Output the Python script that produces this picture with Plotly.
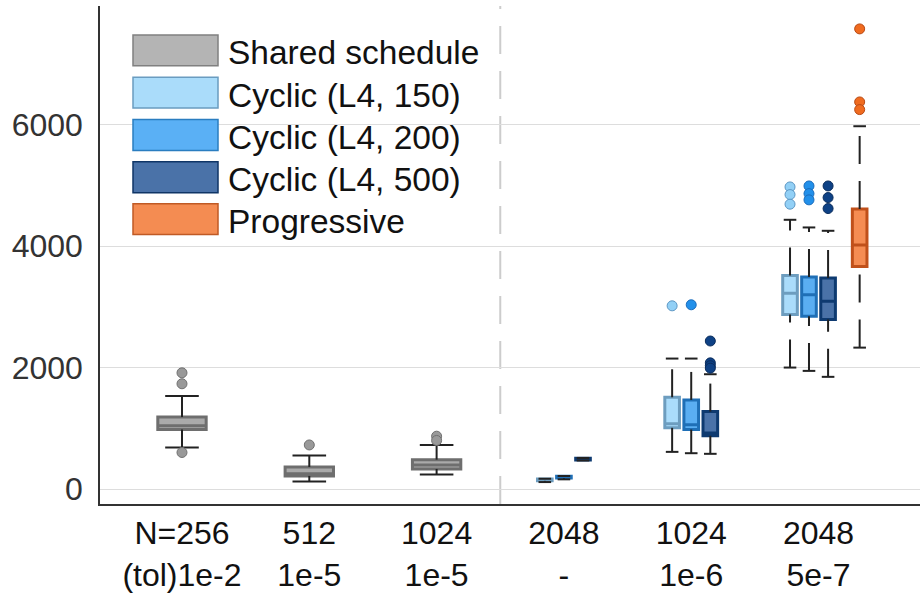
import plotly.graph_objects as go

# ---------------- data ----------------
tick_vals = [0, 1, 2, 3, 4, 5]
tick_text = ["N=256<br>(tol)1e-2", "512<br>1e-5", "1024<br>1e-5",
             "2048<br>-", "1024<br>1e-6", "2048<br>5e-7"]
y_ticks = [0, 2000, 4000, 6000]

shared_cat = [0, 1, 2]
shared_q1 = [980, 216, 331]
shared_med = [1040, 250, 395]
shared_q3 = [1185, 364, 484]
shared_lo = [684, 126, 241]
shared_hi = [1530, 552, 726]
shared_out_cat = [0, 0, 0, 1, 2, 2]
shared_out = [1913, 1733, 602, 726, 870, 800]

c150_cat = [3, 4, 5]
c150_q1 = [135, 1008, 2872]
c150_med = [150, 1075, 3224]
c150_q3 = [165, 1511, 3516]
c150_lo = [115, 612, 2000]
c150_hi = [170, 2148, 4432]
c150_out_cat = [4, 5, 5, 5]
c150_out = [3016, 4973, 4847, 4689]

c200_cat = [3, 4, 5]
c200_q1 = [180, 980, 2844]
c200_med = [195, 1060, 3197]
c200_q3 = [210, 1467, 3489]
c200_lo = [160, 590, 1945]
c200_hi = [215, 2148, 4306]
c200_out_cat = [4, 5, 5, 5]
c200_out = [3033, 4989, 4863, 4760]

c500_cat = [3, 4, 5]
c500_q1 = [478, 877, 2790]
c500_med = [490, 923, 3093]
c500_q3 = [505, 1275, 3472]
c500_lo = [470, 580, 1847]
c500_hi = [512, 1890, 4251]
c500_out_cat = [4, 4, 4, 4, 5, 5, 5]
c500_out = [2437, 2077, 2030, 1990, 4989, 4798, 4617]

prog_cat = [5]
prog_q1 = [3664]
prog_med = [4016]
prog_q3 = [4610]
prog_lo = [2328]
prog_hi = [5972]
prog_out_cat = [5, 5, 5]
prog_out = [7574, 6372, 6246]

names = ["Shared schedule", "Cyclic (L4, 150)", "Cyclic (L4, 200)",
         "Cyclic (L4, 500)", "Progressive"]

# ---------------- styles / layout helpers ----------------
FONT = "Liberation Sans, Arial, sans-serif"
W, H = 923, 596
ML, MR, MT, MB = 100, 3, 6, 90

# per-series offset of a box from its category centre (x units)
offsets = {
    "shared": {0: 0, 1: 0, 2: 0},
    "c150": {3: -0.15, 4: -0.15, 5: -0.224},
    "c200": {3: 0.0, 4: 0.0, 5: -0.075},
    "c500": {3: 0.15, 4: 0.15, 5: 0.075},
    "prog": {5: 0.323},
}
styles = {
    "shared": dict(line="#6e6e6e", fill="#aaaaaa", pt="#999999", ptl="#707070",
                   width=0.38, cap=24, sw_fill="#b4b4b4", sw_line="#808080"),
    "c150": dict(line="#6d9dbf", fill="#aadcfb", pt="#92d0f6", ptl="#5d97c4",
                 width=0.115, cap=9, sw_fill="#aadcfa", sw_line="#6a9cc0"),
    "c200": dict(line="#1f6fb6", fill="#5aaef2", pt="#2290ea", ptl="#1a6cbc",
                 width=0.115, cap=9, sw_fill="#5ab0f5", sw_line="#2a7dc0"),
    "c500": dict(line="#0e3a70", fill="#4a72a8", pt="#0e4185", ptl="#0a2c5c",
                 width=0.115, cap=9, sw_fill="#4a72a8", sw_line="#0f3566"),
    "prog": dict(line="#c0501a", fill="#f58c52", pt="#f06b1f", ptl="#b84a15",
                 width=0.115, cap=9, sw_fill="#f48c52", sw_line="#c05a25"),
}

series = {
    "shared": (shared_cat, shared_q1, shared_med, shared_q3, shared_lo, shared_hi, shared_out_cat, shared_out),
    "c150": (c150_cat, c150_q1, c150_med, c150_q3, c150_lo, c150_hi, c150_out_cat, c150_out),
    "c200": (c200_cat, c200_q1, c200_med, c200_q3, c200_lo, c200_hi, c200_out_cat, c200_out),
    "c500": (c500_cat, c500_q1, c500_med, c500_q3, c500_lo, c500_hi, c500_out_cat, c500_out),
    "prog": (prog_cat, prog_q1, prog_med, prog_q3, prog_lo, prog_hi, prog_out_cat, prog_out),
}

fig = go.Figure()
WHISK = "#222222"

for key, (cat, q1, med, q3, lo, hi, ocat, oval) in series.items():
    st = styles[key]
    pos = [c + offsets[key][c] for c in cat]
    # whiskers (drawn bottom -> top, dashed)
    wx, wy = [], []
    for p, a, b, c_, d in zip(pos, lo, q1, q3, hi):
        wx += [p, p, None, p, p, None]
        wy += [a, b, None, c_, d, None]
    fig.add_trace(go.Scatter(x=wx, y=wy, mode="lines", connectgaps=False,
                             line=dict(color=WHISK, width=2, dash="28px,17px"),
                             hoverinfo="skip", showlegend=False))
    # boxes
    fig.add_trace(go.Box(x=pos, q1=q1, median=med, q3=q3, lowerfence=q1, upperfence=q3,
                         width=st["width"], whiskerwidth=0,
                         line=dict(color=st["line"], width=3), fillcolor=st["fill"],
                         boxpoints=False, hoverinfo="skip", showlegend=False))
    # caps
    fig.add_trace(go.Scatter(x=pos + pos, y=lo + hi, mode="markers",
                             marker=dict(symbol="line-ew", size=st["cap"],
                                         line=dict(color=WHISK, width=2)),
                             hoverinfo="skip", showlegend=False))
    # outliers
    opos = [c + offsets[key][c] for c in ocat]
    fig.add_trace(go.Scatter(x=opos, y=oval, mode="markers",
                             marker=dict(symbol="circle", size=10, color=st["pt"],
                                         line=dict(color=st["ptl"], width=1)),
                             hoverinfo="skip", showlegend=False))

# ---------------- manual legend ----------------
pw = W - ML - MR
ph = H - MT - MB
def px_x(px):
    return (px - ML) / pw
def px_y(py):
    return (H - MB - py) / ph

shapes = [dict(type="line", xref="x", yref="paper", x0=2.5, x1=2.5, y0=0, y1=1,
               line=dict(color="#cccccc", width=2, dash="28px,17px"), layer="below")]
annotations = []
row_top = [35, 77.5, 120, 162.5, 204.5]
for key, name, top in zip(["shared", "c150", "c200", "c500", "prog"], names, row_top):
    st = styles[key]
    shapes.append(dict(type="rect", xref="paper", yref="paper",
                       x0=px_x(133), x1=px_x(218), y0=px_y(top + 31), y1=px_y(top),
                       fillcolor=st["sw_fill"], line=dict(color=st["sw_line"], width=1.5)))
    annotations.append(dict(xref="paper", yref="paper", x=px_x(226), y=px_y(top + 18),
                            text=name, showarrow=False, xanchor="left", yanchor="middle",
                            font=dict(family=FONT, size=33.5, color="#111111")))

fig.update_layout(
    width=W, height=H, autosize=False,
    margin=dict(l=ML, r=MR, t=MT, b=MB),
    paper_bgcolor="white", plot_bgcolor="white",
    boxmode="overlay", showlegend=False,
    font=dict(family=FONT, size=32, color="#222222"),
    shapes=shapes, annotations=annotations,
    xaxis=dict(range=[-0.644, 5.797], tickvals=tick_vals, ticktext=tick_text,
               showgrid=False, zeroline=False, showline=True, linecolor="#333333",
               linewidth=1.5, ticks="", tickfont=dict(family=FONT, size=32, color="#111111")),
    yaxis=dict(range=[-246, 7951], tickvals=y_ticks, showgrid=True, gridcolor="#dddddd",
               gridwidth=1, zeroline=False, showline=True, linecolor="#333333",
               linewidth=1.5, ticks="", ticklabelstandoff=9,
               tickfont=dict(family=FONT, size=32, color="#333333")),
)

fig.write_html("out.html")
